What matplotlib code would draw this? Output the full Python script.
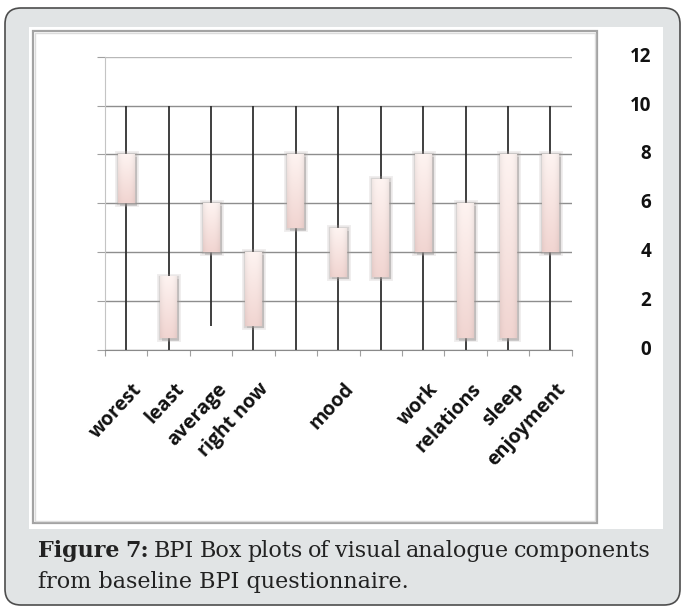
import numpy as np
import matplotlib
matplotlib.use("Agg")
import matplotlib.pyplot as plt
from matplotlib.patches import FancyBboxPatch, Rectangle
from matplotlib.transforms import IdentityTransform
import matplotlib.patheffects as pe

# Kategorien (zwei Boxen ohne Beschriftung)
categories = ['worest', 'least', 'average', 'right now', '', 'mood', '',
              'work', 'relations', 'sleep', 'enjoyment']
box_low = [6, 0.5, 4, 1, 5, 3, 3, 4, 0.5, 0.5, 4]
box_high = [8, 3, 6, 4, 8, 5, 7, 8, 6, 8, 8]
whisker_low = [0, 0, 1, 0, 0, 0, 0, 0, 0, 0, 0]
whisker_high = [10, 10, 10, 10, 10, 10, 10, 10, 10, 10, 10]
y_ticks = [0, 2, 4, 6, 8, 10, 12]

caption_bold = ['Figure', '7:']
caption_line1 = ['BPI', 'Box', 'plots', 'of', 'visual', 'analogue', 'components']
caption_line2 = 'from baseline BPI questionnaire.'

W, H = 685, 608
fig = plt.figure(figsize=(W / 100, H / 100), dpi=100)
fig.patch.set_facecolor('white')
px = IdentityTransform()

# Rahmen
outer = FancyBboxPatch((5, 3), 675, 597, boxstyle='round,pad=0,rounding_size=16',
                       transform=px, facecolor='#e1e4e5', edgecolor='#4d4d4d', lw=1.2,
                       zorder=-3)
fig.patches.append(outer)
fig.patches.append(Rectangle((29, 79), 634, 502, transform=px,
                             facecolor='white', edgecolor='none', zorder=-2))
fig.patches.append(Rectangle((33, 85), 564, 492, transform=px,
                             facecolor='none', edgecolor='#a3a3a3', lw=1.6, zorder=-1))
fig.patches.append(Rectangle((35, 87), 560, 488, transform=px,
                             facecolor='none', edgecolor='#dcdcdc', lw=1.0, zorder=-1))

ax = fig.add_axes([105 / W, (H - 350) / H, (571.7 - 105) / W, (350 - 56.7) / H])
ax.set_facecolor('none')
ax.set_zorder(2)

x = np.arange(1, len(categories) + 1)

# Whisker
ax.vlines(x, whisker_low, whisker_high, color='#303030', lw=1.3, zorder=2)

# Boxen mit Schatten
heights = np.array(box_high) - np.array(box_low)
bars = ax.bar(x, heights, bottom=box_low, width=0.4, color='#f5dedb',
              edgecolor='none', zorder=3)
for b in bars:
    b.set_path_effects([
        pe.SimplePatchShadow(offset=(1.5, -2), shadow_rgbFace='#7a7a7a', alpha=0.3),
        pe.Stroke(linewidth=5, foreground='#b5adac', alpha=0.2),
        pe.Stroke(linewidth=2.5, foreground='#a09896', alpha=0.3),
        pe.Normal()])

# Farbverlauf in den Boxen
t = np.linspace(0, 1, 64)[:, None, None]
u = np.linspace(-1, 1, 16)[None, :, None]
top_c = np.array([0.995, 0.955, 0.945])
bot_c = np.array([0.945, 0.835, 0.82])
grad = top_c * (1 - t) + bot_c * t
grad = grad * (1 - 0.05 * np.abs(u) ** 3)
for xi, lo, hi in zip(x, box_low, box_high):
    ax.imshow(np.clip(grad, 0, 1), extent=[xi - 0.2, xi + 0.2, lo, hi],
              aspect='auto', zorder=4, interpolation='bilinear')

ax.set_xlim(0.5, len(categories) + 0.5)
ax.set_ylim(0, 12)

# Achsen und Gitter
ax.set_axisbelow(True)
ax.set_yticks(y_ticks)
ax.yaxis.grid(True, color='#8e8e8e', lw=1.0)
gl = ax.get_ygridlines()
gl[-1].set_color('#b8b8b8')
ax.tick_params(axis='y', length=5.8, color='#a0a0a0', labelleft=False)
ax.set_xticks(np.arange(0.5, len(categories) + 1, 1))
ax.tick_params(axis='x', length=4.5, color='#a0a0a0', labelbottom=False)
for s in ['top', 'right']:
    ax.spines[s].set_visible(False)
ax.spines['left'].set_color('#c4c4c4')
ax.spines['bottom'].set_color('#8a8a8a')

# Beschriftungen
for xi, lab in zip(x, categories):
    if lab:
        ax.text(xi + 0.12, -0.1, lab, transform=ax.get_xaxis_transform(),
                rotation=47, rotation_mode='anchor', ha='right', va='top',
                fontsize=14, fontweight='bold', family='Open Sans', color='#111111')
for yv in y_ticks:
    ax.text(1.17, yv, str(yv), transform=ax.get_yaxis_transform(),
            ha='right', va='center', fontsize=13.5, fontweight='bold',
            family='Open Sans', color='#111111')

# Bildunterschrift, erste Zeile im Blocksatz
fs = 16
fig.canvas.draw()
r = fig.canvas.get_renderer()
words = []
for w in caption_bold + caption_line1:
    tx = fig.text(0, 0, w, transform=px, fontsize=fs, family='DejaVu Serif',
                  fontweight='bold' if w in caption_bold else 'normal',
                  color='#222222', va='baseline', ha='left')
    words.append(tx)
widths = [tx.get_window_extent(r).width for tx in words]
x0, x1 = 38, 651
gap = (x1 - x0 - sum(widths)) / (len(words) - 1)
pos = x0
for tx, wd in zip(words, widths):
    tx.set_position((pos, 51))
    pos += wd + gap
fig.text(38, 20, caption_line2, transform=px, fontsize=fs, family='DejaVu Serif',
         color='#222222', va='baseline', ha='left')

fig.savefig('out.png', dpi=100)
